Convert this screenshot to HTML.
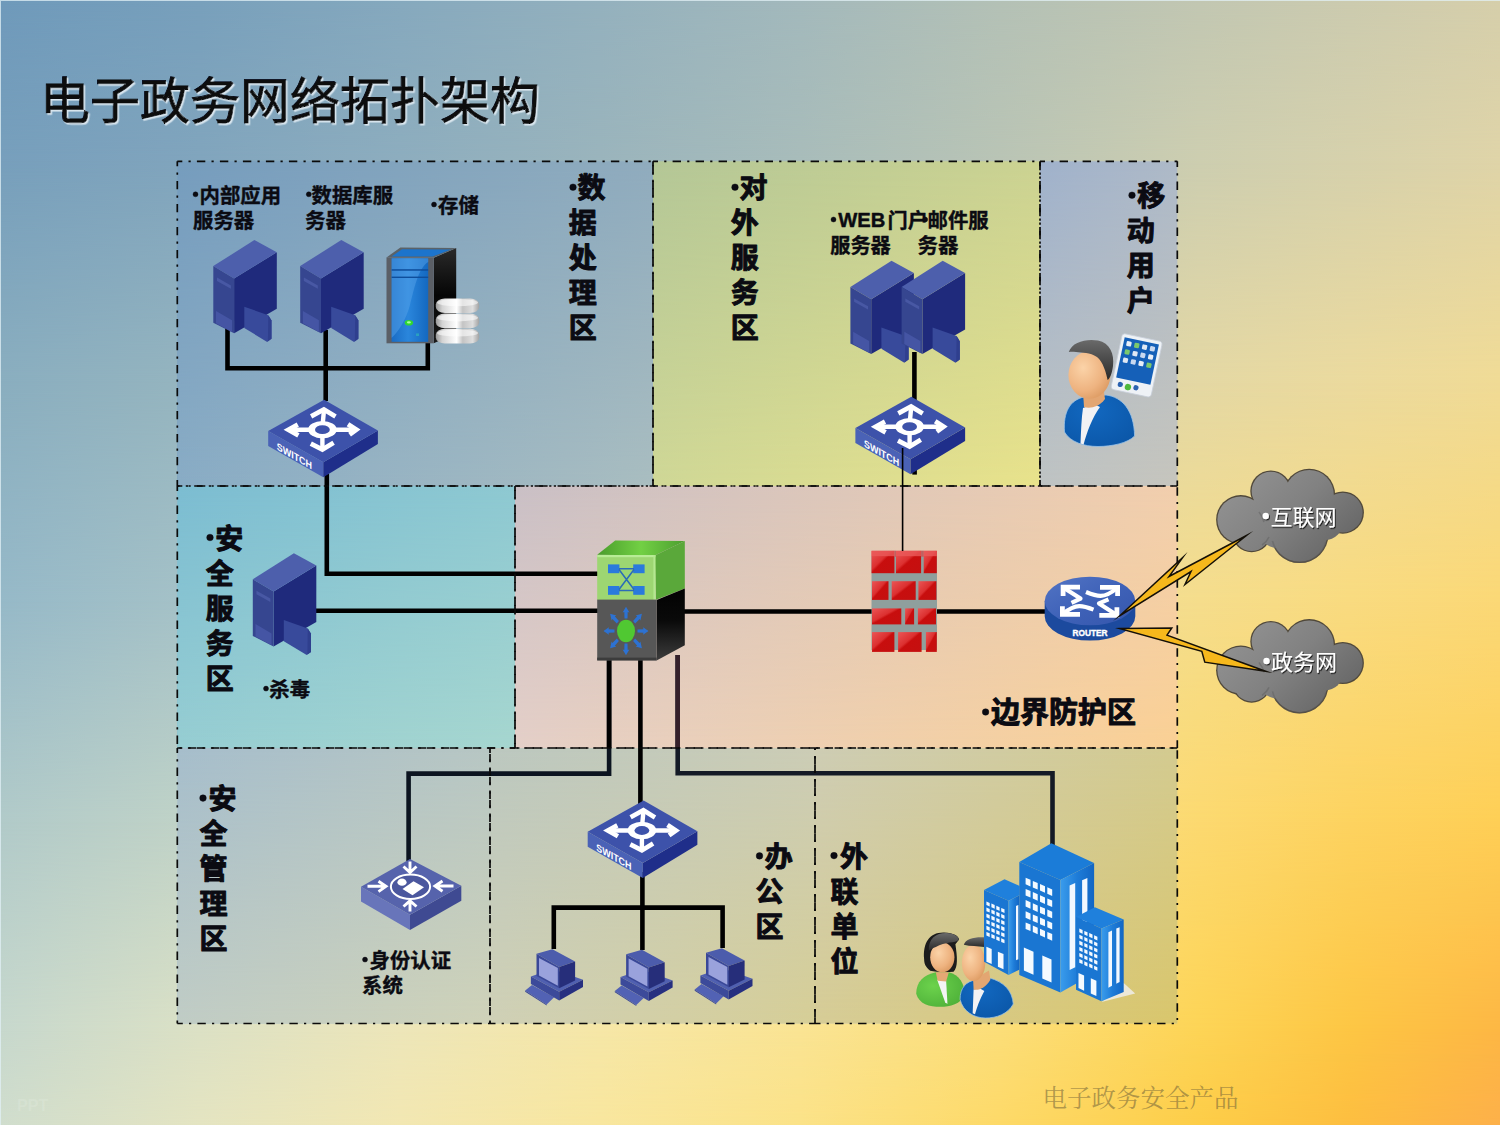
<!DOCTYPE html><html><head><meta charset="utf-8"><title>电子政务网络拓扑架构</title><style>
html,body{margin:0;padding:0;}body{width:1500px;height:1125px;overflow:hidden;position:relative;font-family:"Liberation Sans",sans-serif;background:#cfd3b8;}
.bg{position:absolute;left:0;top:0;width:1500px;height:1125px;}
svg{position:absolute;left:0;top:0;}
.t{position:absolute;color:transparent;font-weight:bold;line-height:1.2;white-space:nowrap;margin:0;}
</style></head><body>
<div class="bg" style="background:linear-gradient(to right,rgb(111,154,187) 0.00%,rgb(120,160,188) 13.33%,rgb(134,169,190) 26.67%,rgb(148,177,190) 40.00%,rgb(163,185,188) 53.33%,rgb(180,193,182) 66.67%,rgb(194,199,178) 80.00%,rgb(204,203,175) 90.00%,rgb(214,207,171) 100.00%);"></div>
<div class="bg" style="background:linear-gradient(to right,rgb(119,159,188) 0.00%,rgb(129,165,189) 13.33%,rgb(141,173,190) 26.67%,rgb(154,180,188) 40.00%,rgb(168,188,186) 53.33%,rgb(185,196,181) 66.67%,rgb(205,206,176) 80.00%,rgb(214,209,172) 90.00%,rgb(223,212,168) 100.00%);-webkit-mask-image:linear-gradient(to bottom,transparent 0.00%,#000 14.22%);mask-image:linear-gradient(to bottom,transparent 0.00%,#000 14.22%);"></div>
<div class="bg" style="background:linear-gradient(to right,rgb(138,174,191) 0.00%,rgb(150,181,191) 13.33%,rgb(164,189,190) 26.67%,rgb(180,197,186) 40.00%,rgb(197,205,180) 53.33%,rgb(214,211,172) 66.67%,rgb(228,216,164) 80.00%,rgb(235,218,158) 90.00%,rgb(240,219,150) 100.00%);-webkit-mask-image:linear-gradient(to bottom,transparent 14.22%,#000 33.78%);mask-image:linear-gradient(to bottom,transparent 14.22%,#000 33.78%);"></div>
<div class="bg" style="background:linear-gradient(to right,rgb(150,185,200) 0.00%,rgb(166,194,199) 13.33%,rgb(190,206,190) 26.67%,rgb(206,213,184) 40.00%,rgb(222,219,172) 53.33%,rgb(236,222,158) 66.67%,rgb(245,221,140) 80.00%,rgb(249,219,128) 90.00%,rgb(251,216,118) 100.00%);-webkit-mask-image:linear-gradient(to bottom,transparent 33.78%,#000 53.33%);mask-image:linear-gradient(to bottom,transparent 33.78%,#000 53.33%);"></div>
<div class="bg" style="background:linear-gradient(to right,rgb(177,202,201) 0.00%,rgb(193,211,199) 13.33%,rgb(214,220,190) 26.67%,rgb(229,225,178) 40.00%,rgb(241,227,160) 53.33%,rgb(248,224,138) 66.67%,rgb(252,217,112) 80.00%,rgb(253,211,96) 90.00%,rgb(254,207,86) 100.00%);-webkit-mask-image:linear-gradient(to bottom,transparent 53.33%,#000 72.89%);mask-image:linear-gradient(to bottom,transparent 53.33%,#000 72.89%);"></div>
<div class="bg" style="background:linear-gradient(to right,rgb(199,216,205) 0.00%,rgb(220,225,197) 13.33%,rgb(237,230,185) 26.67%,rgb(246,231,167) 40.00%,rgb(250,228,147) 53.33%,rgb(252,222,120) 66.67%,rgb(253,212,86) 80.00%,rgb(253,198,68) 90.00%,rgb(253,183,68) 100.00%);-webkit-mask-image:linear-gradient(to bottom,transparent 72.89%,#000 91.56%);mask-image:linear-gradient(to bottom,transparent 72.89%,#000 91.56%);"></div>
<div class="bg" style="background:linear-gradient(to right,rgb(208,221,205) 0.00%,rgb(228,228,193) 13.33%,rgb(242,231,178) 26.67%,rgb(248,230,158) 40.00%,rgb(251,226,136) 53.33%,rgb(253,217,104) 66.67%,rgb(253,205,72) 80.00%,rgb(253,190,64) 90.00%,rgb(253,176,74) 100.00%);-webkit-mask-image:linear-gradient(to bottom,transparent 91.56%,#000 100.00%);mask-image:linear-gradient(to bottom,transparent 91.56%,#000 100.00%);"></div>
<div class="bg" style="box-shadow:inset 1px 1px 0 rgba(225,240,245,0.75);"></div>
<svg width="1500" height="1125" viewBox="0 0 1500 1125">
<defs>
<linearGradient id="zt_data" x1="0" y1="0" x2="1" y2="0"><stop offset="0" stop-color="rgb(118,157,190)"/><stop offset="1" stop-color="rgb(144,172,190)"/></linearGradient>
<linearGradient id="zb_data" x1="0" y1="0" x2="1" y2="0"><stop offset="0" stop-color="rgb(137,172,197)"/><stop offset="1" stop-color="rgb(169,189,192)"/></linearGradient>
<linearGradient id="zt_ext" x1="0" y1="0" x2="1" y2="0"><stop offset="0" stop-color="rgb(180,199,151)"/><stop offset="1" stop-color="rgb(204,211,146)"/></linearGradient>
<linearGradient id="zb_ext" x1="0" y1="0" x2="1" y2="0"><stop offset="0" stop-color="rgb(207,215,150)"/><stop offset="1" stop-color="rgb(232,226,139)"/></linearGradient>
<linearGradient id="zt_mobile" x1="0" y1="0" x2="1" y2="0"><stop offset="0" stop-color="rgb(160,178,204)"/><stop offset="1" stop-color="rgb(174,186,200)"/></linearGradient>
<linearGradient id="zb_mobile" x1="0" y1="0" x2="1" y2="0"><stop offset="0" stop-color="rgb(190,195,195)"/><stop offset="1" stop-color="rgb(198,197,189)"/></linearGradient>
<linearGradient id="zt_secsvc" x1="0" y1="0" x2="1" y2="0"><stop offset="0" stop-color="rgb(124,189,210)"/><stop offset="1" stop-color="rgb(142,201,210)"/></linearGradient>
<linearGradient id="zb_secsvc" x1="0" y1="0" x2="1" y2="0"><stop offset="0" stop-color="rgb(150,205,210)"/><stop offset="1" stop-color="rgb(166,214,207)"/></linearGradient>
<linearGradient id="zt_border" x1="0" y1="0" x2="1" y2="0"><stop offset="0" stop-color="rgb(202,192,198)"/><stop offset="1" stop-color="rgb(242,207,174)"/></linearGradient>
<linearGradient id="zb_border" x1="0" y1="0" x2="1" y2="0"><stop offset="0" stop-color="rgb(228,207,200)"/><stop offset="1" stop-color="rgb(250,208,148)"/></linearGradient>
<linearGradient id="zt_secmgmt" x1="0" y1="0" x2="1" y2="0"><stop offset="0" stop-color="rgb(166,190,204)"/><stop offset="1" stop-color="rgb(184,199,196)"/></linearGradient>
<linearGradient id="zb_secmgmt" x1="0" y1="0" x2="1" y2="0"><stop offset="0" stop-color="rgb(192,204,197)"/><stop offset="1" stop-color="rgb(207,210,184)"/></linearGradient>
<linearGradient id="zt_office" x1="0" y1="0" x2="1" y2="0"><stop offset="0" stop-color="rgb(188,200,192)"/><stop offset="1" stop-color="rgb(204,205,182)"/></linearGradient>
<linearGradient id="zb_office" x1="0" y1="0" x2="1" y2="0"><stop offset="0" stop-color="rgb(207,208,182)"/><stop offset="1" stop-color="rgb(214,206,150)"/></linearGradient>
<linearGradient id="zt_extunit" x1="0" y1="0" x2="1" y2="0"><stop offset="0" stop-color="rgb(206,205,180)"/><stop offset="1" stop-color="rgb(212,203,144)"/></linearGradient>
<linearGradient id="zb_extunit" x1="0" y1="0" x2="1" y2="0"><stop offset="0" stop-color="rgb(214,204,150)"/><stop offset="1" stop-color="rgb(217,198,108)"/></linearGradient>
<linearGradient id="vmg" x1="0" y1="0" x2="0" y2="1"><stop offset="0" stop-color="#000"/><stop offset="1" stop-color="#fff"/></linearGradient>
<mask id="vm" maskContentUnits="objectBoundingBox"><rect width="1" height="1" fill="url(#vmg)"/></mask>
<g id="srv"><polygon points="20.8,38.4 63.5,12.3 63.5,68.8 20.8,93.3" fill="#1f2a7c" /><polygon points="0.0,26.1 41.1,0.0 63.5,12.3 20.8,38.4" fill="#4d5fac" /><polygon points="0.0,26.1 20.8,38.4 20.8,93.3 0.0,82.7" fill="#364690" /><polygon points="3.7,37.6 17.6,45.4 17.6,48.8 3.7,41.0" fill="#4858a4" /><polygon points="2.7,70.9 18.7,80.3 18.7,92.0 2.7,83.2" fill="#4555a4" /><polygon points="31.0,66.7 55.0,75.2 58.2,80.5 58.2,98.7 53.9,101.9 31.0,88.0" fill="#384a9b" /><polygon points="55.0,75.2 58.2,80.5 58.2,98.7 54.6,101.2" fill="#2f3f8e" /></g>
<g id="sw"><polygon points="-54.8,0.0 0.3,31.2 0.3,46.2 -54.8,15.0" fill="#4a62b6" /><polygon points="0.3,31.2 54.9,-0.5 54.9,13.0 0.3,46.2" fill="#1f2e8a" /><polygon points="1.1,-31.2 54.9,-0.5 0.3,31.2 -54.8,0.0" fill="#3d52aa" /><g stroke="#fff" fill="none" stroke-width="4.7" stroke-linejoin="miter" stroke-miterlimit="10"><path d="M-0.2,-8L0.9,-20M-0.6,6L-0.6,18M-13,-1.3L-34,-1.3M12,-1.3L33,-1.3" stroke-width="4.4"/><path d="M-11.9,-14.6L0.9,-21.5L12.5,-14.4"/><path d="M-12.2,12.6L-0.6,18.6L10.6,11.8"/><path d="M-25.2,-6.4L-34.6,-1.3L-24.6,4.4"/><path d="M25,-6.8L33.4,-1.3L26.6,3.6"/></g><ellipse cx="-0.6" cy="-1.3" rx="14.3" ry="8.7" fill="#fff"/><ellipse cx="-0.6" cy="-1.3" rx="7.4" ry="4.4" fill="#3d52aa"/><text x="0" y="0" font-family="'Liberation Sans',sans-serif" font-weight="bold" font-size="10.3" fill="#fff" transform="matrix(0.868,0.494,0,1,-46.2,18.6)">SWITCH</text></g>
<g id="pc"><polygon points="10.2,55.5 17.0,49.9 39.1,62.3 31.7,69.4" fill="#5262b4" /><polygon points="10.2,55.5 31.7,69.4 31.7,70.5 10.2,56.7" fill="#3a4896" /><polygon points="15.9,41.4 37.4,34.0 68.0,44.8 44.2,56.7" fill="#5060b0" /><polygon points="15.9,41.4 44.2,56.7 44.2,65.5 15.9,49.0" fill="#3c4a9a" /><polygon points="44.2,56.7 68.0,44.8 68.0,51.9 44.2,65.5" fill="#273080" /><polygon points="21.5,18.7 37.4,14.2 60.1,26.6 44.2,32.0" fill="#4c5cac" /><polygon points="21.5,18.7 44.2,32.0 44.2,53.3 21.5,41.0" fill="#3a4898" /><polygon points="44.2,32.0 60.1,26.6 60.1,45.6 44.2,53.3" fill="#262e7a" /><polygon points="24.0,22.9 42.8,33.1 42.8,50.8 24.0,40.6" fill="#9aa2dc" /></g>
<linearGradient id="stf" x1="0" y1="0" x2="1" y2="0"><stop offset="0" stop-color="#1a6cc4"/><stop offset="0.45" stop-color="#2a86dc"/><stop offset="1" stop-color="#1468c0"/></linearGradient>
<linearGradient id="stk" x1="0" y1="0" x2="0" y2="1"><stop offset="0" stop-color="#2a2a2a"/><stop offset="0.5" stop-color="#050505"/><stop offset="1" stop-color="#1a1a1a"/></linearGradient>
<linearGradient id="dsk" x1="0" y1="0" x2="1" y2="0"><stop offset="0" stop-color="#9a9a9a"/><stop offset="0.15" stop-color="#d4d4d4"/><stop offset="0.48" stop-color="#ffffff"/><stop offset="0.62" stop-color="#c4c4c4"/><stop offset="0.85" stop-color="#dedede"/><stop offset="1" stop-color="#a2a2a2"/></linearGradient>
<linearGradient id="cst" x1="0" y1="0" x2="1" y2="0"><stop offset="0" stop-color="#4a9c2c"/><stop offset="0.5" stop-color="#72d044"/><stop offset="1" stop-color="#4c9e30"/></linearGradient>
<linearGradient id="csk" x1="0" y1="0" x2="0" y2="1"><stop offset="0" stop-color="#020202"/><stop offset="0.45" stop-color="#0a0a0a"/><stop offset="1" stop-color="#3c3c3c"/></linearGradient>
<linearGradient id="brk" x1="0" y1="0" x2="1" y2="1"><stop offset="0" stop-color="#ea5656"/><stop offset="0.42" stop-color="#dc3030"/><stop offset="0.5" stop-color="#c80e0e"/><stop offset="1" stop-color="#c41010"/></linearGradient>
<linearGradient id="rtt" x1="0" y1="0" x2="1" y2="1"><stop offset="0" stop-color="#5274c4"/><stop offset="0.5" stop-color="#3f62b8"/><stop offset="1" stop-color="#3556ac"/></linearGradient>
<linearGradient id="cld" gradientUnits="userSpaceOnUse" x1="1240" y1="470" x2="1330" y2="565"><stop offset="0" stop-color="#929292"/><stop offset="0.5" stop-color="#818181"/><stop offset="1" stop-color="#666"/></linearGradient>
<g id="cloud"><g fill="#50483a"><circle cx="1240.8" cy="519.8" r="24.7"/><circle cx="1270.8" cy="491.0" r="20.5"/><circle cx="1309.2" cy="494.6" r="25.9"/><circle cx="1342.8" cy="512.6" r="21.1"/><circle cx="1299.6" cy="534.2" r="28.9"/><circle cx="1251.6" cy="533.0" r="19.3"/></g><g fill="url(#cld)"><circle cx="1240.8" cy="519.8" r="23.4"/><circle cx="1270.8" cy="491.0" r="19.2"/><circle cx="1309.2" cy="494.6" r="24.6"/><circle cx="1342.8" cy="512.6" r="19.8"/><circle cx="1299.6" cy="534.2" r="27.6"/><circle cx="1251.6" cy="533.0" r="18.0"/><circle cx="1290.0" cy="512.0" r="25.0"/><circle cx="1325.0" cy="522.0" r="18.0"/><circle cx="1266.0" cy="516.0" r="20.0"/><circle cx="1278.0" cy="526.0" r="22.0"/><circle cx="1310.0" cy="518.0" r="24.0"/></g><g fill="none" stroke="#5e5e5e" stroke-opacity="0.45" stroke-width="1.6"><path d="M1259,512A23.4,23.4 0 0 1 1264,522"/><path d="M1262,545A18,18 0 0 0 1269,537"/><path d="M1272.5,541A27.6,27.6 0 0 0 1326,542"/></g></g>
<linearGradient id="bls" x1="0" y1="0" x2="1" y2="0"><stop offset="0" stop-color="#3a9cec"/><stop offset="0.5" stop-color="#1e7cd8"/><stop offset="1" stop-color="#1266c4"/></linearGradient>
<radialGradient id="skin" cx="0.35" cy="0.35" r="0.8"><stop offset="0" stop-color="#fbd3a8"/><stop offset="0.6" stop-color="#eeb380"/><stop offset="1" stop-color="#d8945a"/></radialGradient>
<linearGradient id="hair" x1="0" y1="0" x2="0" y2="1"><stop offset="0" stop-color="#6a6a6a"/><stop offset="1" stop-color="#2a2a2a"/></linearGradient>
<radialGradient id="jkt" cx="0.4" cy="0.3" r="0.9"><stop offset="0" stop-color="#1268c0"/><stop offset="1" stop-color="#0a54a4"/></radialGradient>
<radialGradient id="grn" cx="0.35" cy="0.4" r="0.9"><stop offset="0" stop-color="#6cd24c"/><stop offset="1" stop-color="#46a834"/></radialGradient>
<filter id="tsh" x="-5%" y="-20%" width="110%" height="150%"><feDropShadow dx="1" dy="1.2" stdDeviation="0.7" flood-color="#000" flood-opacity="0.75"/></filter>
<filter id="ttl" x="-2%" y="-10%" width="104%" height="125%"><feDropShadow dx="1.4" dy="1.6" stdDeviation="0.6" flood-color="#dfeaf2" flood-opacity="0.95"/></filter>
</defs>
<g id="zones">
<rect x="177.3" y="161.3" width="475.7" height="324.7" fill="url(#zt_data)"/>
<rect x="177.3" y="161.3" width="475.7" height="324.7" fill="url(#zb_data)" mask="url(#vm)"/>
<rect x="653.0" y="161.3" width="387.0" height="324.7" fill="url(#zt_ext)"/>
<rect x="653.0" y="161.3" width="387.0" height="324.7" fill="url(#zb_ext)" mask="url(#vm)"/>
<rect x="1040.0" y="161.3" width="137.3" height="324.7" fill="url(#zt_mobile)"/>
<rect x="1040.0" y="161.3" width="137.3" height="324.7" fill="url(#zb_mobile)" mask="url(#vm)"/>
<rect x="177.3" y="486.0" width="337.7" height="262.0" fill="url(#zt_secsvc)"/>
<rect x="177.3" y="486.0" width="337.7" height="262.0" fill="url(#zb_secsvc)" mask="url(#vm)"/>
<rect x="515.0" y="486.0" width="662.3" height="262.0" fill="url(#zt_border)"/>
<rect x="515.0" y="486.0" width="662.3" height="262.0" fill="url(#zb_border)" mask="url(#vm)"/>
<rect x="177.3" y="748.0" width="312.7" height="275.5" fill="url(#zt_secmgmt)"/>
<rect x="177.3" y="748.0" width="312.7" height="275.5" fill="url(#zb_secmgmt)" mask="url(#vm)"/>
<rect x="490.0" y="748.0" width="325.0" height="275.5" fill="url(#zt_office)"/>
<rect x="490.0" y="748.0" width="325.0" height="275.5" fill="url(#zb_office)" mask="url(#vm)"/>
<rect x="815.0" y="748.0" width="362.3" height="275.5" fill="url(#zt_extunit)"/>
<rect x="815.0" y="748.0" width="362.3" height="275.5" fill="url(#zb_extunit)" mask="url(#vm)"/>
</g>
<g id="under">
</g>
<g id="lines" stroke-linejoin="miter">
<polyline points="227.5,328.0 227.5,368.3 427.8,368.3 427.8,343.0" fill="none" stroke="#000" stroke-width="4.6" />
<polyline points="325.7,330.0 325.7,401.0" fill="none" stroke="#000" stroke-width="4.6" />
<polyline points="326.8,474.0 326.8,573.8 598.0,573.8" fill="none" stroke="#000" stroke-width="4.6" />
<polyline points="314.0,610.8 598.0,610.8" fill="none" stroke="#000" stroke-width="4.6" />
<polyline points="684.0,611.5 1046.0,611.5" fill="none" stroke="#000" stroke-width="4.6" />
<polyline points="914.4,352.0 914.4,400.0" fill="none" stroke="#000" stroke-width="4.6" />
<polyline points="914.6,466.0 914.6,474.6" fill="none" stroke="#000" stroke-width="4.6" />
<polyline points="609.1,659.0 609.1,773.6 408.6,773.6 408.6,861.0" fill="none" stroke="#0c1420" stroke-width="4.6" />
<polyline points="609.1,659.0 609.1,748.0" fill="none" stroke="#000" stroke-width="4.6" />
<polyline points="640.4,659.0 640.4,810.0" fill="none" stroke="#000" stroke-width="4.6" />
<polyline points="677.7,655.0 677.7,773.3 1052.5,773.3 1052.5,846.0" fill="none" stroke="#141a26" stroke-width="4.6" />
<polyline points="677.7,655.0 677.7,748.0" fill="none" stroke="#35202a" stroke-width="4.6" />
<polyline points="642.4,872.0 642.4,950.0" fill="none" stroke="#000" stroke-width="4.6" />
<polyline points="553.8,949.0 553.8,907.6 722.6,907.6 722.6,948.0" fill="none" stroke="#000" stroke-width="4.6" />
</g>
<g id="borders" fill="none" stroke="#0a0a0a" stroke-width="1.7" stroke-dasharray="8.4 6.2 2.2 6.2">
<path d="M177.3,161.3H653.0" stroke-dashoffset="3.4"/>
<path d="M653.0,161.3V486.0" stroke-dashoffset="19.1"/>
<path d="M177.3,161.3V486.0" stroke-dashoffset="3.4"/>
<path d="M177.3,486.0H653.0" stroke-dashoffset="6.1"/>
<path d="M653.0,161.3H1040.0" stroke-dashoffset="3.4"/>
<path d="M1040.0,161.3V486.0" stroke-dashoffset="22.4"/>
<path d="M653.0,161.3V486.0" stroke-dashoffset="3.4"/>
<path d="M653.0,486.0H1040.0" stroke-dashoffset="6.1"/>
<path d="M1040.0,161.3H1177.3" stroke-dashoffset="3.4"/>
<path d="M1177.3,161.3V486.0" stroke-dashoffset="2.7"/>
<path d="M1040.0,161.3V486.0" stroke-dashoffset="3.4"/>
<path d="M1040.0,486.0H1177.3" stroke-dashoffset="6.1"/>
<path d="M177.3,486.0H515.0" stroke-dashoffset="3.4"/>
<path d="M515.0,486.0V748.0" stroke-dashoffset="19.1"/>
<path d="M177.3,486.0V748.0" stroke-dashoffset="3.4"/>
<path d="M177.3,748.0H515.0" stroke-dashoffset="12.4"/>
<path d="M515.0,486.0H1177.3" stroke-dashoffset="3.4"/>
<path d="M1177.3,486.0V748.0" stroke-dashoffset="21.7"/>
<path d="M515.0,486.0V748.0" stroke-dashoffset="3.4"/>
<path d="M515.0,748.0H1177.3" stroke-dashoffset="12.4"/>
<path d="M177.3,748.0H490.0" stroke-dashoffset="3.4"/>
<path d="M490.0,748.0V1023.5" stroke-dashoffset="17.1"/>
<path d="M177.3,748.0V1023.5" stroke-dashoffset="3.4"/>
<path d="M177.3,1023.5H490.0" stroke-dashoffset="2.9"/>
<path d="M490.0,748.0H815.0" stroke-dashoffset="3.4"/>
<path d="M815.0,748.0V1023.5" stroke-dashoffset="6.4"/>
<path d="M490.0,748.0V1023.5" stroke-dashoffset="3.4"/>
<path d="M490.0,1023.5H815.0" stroke-dashoffset="2.9"/>
<path d="M815.0,748.0H1177.3" stroke-dashoffset="3.4"/>
<path d="M1177.3,748.0V1023.5" stroke-dashoffset="20.7"/>
<path d="M815.0,748.0V1023.5" stroke-dashoffset="14.9"/>
<path d="M815.0,1023.5H1177.3" stroke-dashoffset="2.9"/>
</g>
<g id="icons">
<use href="#srv" x="213.3" y="240.0"/>
<use href="#srv" x="300.2" y="240.0"/>
<polygon points="433.8,257.8 456.2,248.0 456.2,333.0 433.8,343.3" fill="url(#stk)" />
<polygon points="386.5,257.4 400.4,247.5 456.2,248.0 433.8,257.6" fill="#5a6268" />
<polygon points="391.5,256.6 402.0,249.2 451.0,249.5 432.5,256.6" fill="#1c74cc" />
<rect x="386.5" y="257.4" width="47.3" height="85.9" fill="#5b5f66"/>
<rect x="391.6" y="258.2" width="36.6" height="83.6" fill="url(#stf)"/>
<path d="M391.6,258.2L428.2,258.2L428.2,262C418,268 414,290 410,305C406,320 398,332 391.6,338Z" fill="#5aa6ea" fill-opacity="0.45"/>
<rect x="391.6" y="269.2" width="36.6" height="1.5" fill="#0e4e9c"/>
<rect x="391.6" y="276.6" width="36.6" height="1.4" fill="#0e4e9c"/>
<ellipse cx="408.9" cy="322.8" rx="4.2" ry="2.8" fill="#2fd82f"/>
<ellipse cx="408.9" cy="322.4" rx="2" ry="1.1" fill="#a8ffa0"/>
<rect x="416" y="333.4" width="3" height="2.6" fill="#2aa0c0"/>
<rect x="435.8" y="298.4" width="43.4" height="14.6" rx="9" ry="6" fill="url(#dsk)"/>
<ellipse cx="457.5" cy="302.6" rx="20.5" ry="3.6" fill="#fff" fill-opacity="0.55"/>
<rect x="435.8" y="313.6" width="43.4" height="14.6" rx="9" ry="6" fill="url(#dsk)"/>
<ellipse cx="457.5" cy="317.8" rx="20.5" ry="3.6" fill="#fff" fill-opacity="0.55"/>
<rect x="435.8" y="328.8" width="43.4" height="14.6" rx="9" ry="6" fill="url(#dsk)"/>
<ellipse cx="457.5" cy="333.0" rx="20.5" ry="3.6" fill="#fff" fill-opacity="0.55"/>
<use href="#sw" x="323.0" y="431.0"/>
<use href="#srv" x="850.4" y="260.8"/>
<use href="#srv" x="901.6" y="260.8"/>
<use href="#sw" x="910.2" y="428.0"/>
<use href="#srv" x="252.8" y="553.2"/>
<polygon points="597.2,554.8 615.2,540.4 684.8,541.0 654.8,555.4" fill="url(#cst)" />
<polygon points="654.8,555.4 684.8,541.0 684.8,588.6 656.0,599.8" fill="#5aa83a" />
<polygon points="656.6,600.0 684.8,588.6 684.8,645.2 656.6,660.4" fill="url(#csk)" />
<rect x="597.2" y="555" width="58.2" height="45" fill="#9dd672"/>
<rect x="597.2" y="555" width="58.2" height="2.2" fill="#b8ec96"/>
<rect x="653.4" y="555" width="2" height="45" fill="#b4e890"/>
<rect x="597.2" y="599.6" width="59.4" height="60.8" fill="#575757"/>
<rect x="597.2" y="657.6" width="59.4" height="2.8" fill="#3c3c3c"/>
<rect x="608.0" y="564.4" width="11.4" height="8.8" fill="#2a7adc"/>
<rect x="633.2" y="564.4" width="11.4" height="8.8" fill="#2a7adc"/>
<rect x="608.0" y="586.0" width="11.4" height="8.8" fill="#2a7adc"/>
<rect x="633.2" y="586.0" width="11.4" height="8.8" fill="#2a7adc"/>
<path d="M619,568.8L634,568.8M619,590.4L634,590.4M619,569.5L634,589.5M634,569.5L619,589.5" fill="none" stroke="#2c6cb8" stroke-width="1.5"/>
<polygon points="637.5,629.4 643.5,629.2 643.0,627.3 648.5,631.0 643.0,634.7 643.5,632.8 637.5,632.6" fill="#2d72d2"/>
<polygon points="635.2,638.6 639.6,643.1 640.4,641.4 641.9,648.2 635.6,646.6 637.2,645.7 633.1,640.9" fill="#2d72d2"/>
<polygon points="627.5,643.4 627.7,649.9 629.4,649.4 626.0,655.3 622.6,649.4 624.3,649.9 624.5,643.4" fill="#2d72d2"/>
<polygon points="618.9,640.9 614.8,645.7 616.4,646.6 610.1,648.2 611.6,641.4 612.4,643.1 616.8,638.6" fill="#2d72d2"/>
<polygon points="614.5,632.6 608.5,632.8 609.0,634.7 603.5,631.0 609.0,627.3 608.5,629.2 614.5,629.4" fill="#2d72d2"/>
<polygon points="616.8,623.4 612.4,618.9 611.6,620.6 610.1,613.8 616.4,615.4 614.8,616.3 618.9,621.1" fill="#2d72d2"/>
<polygon points="624.5,618.6 624.3,612.1 622.6,612.6 626.0,606.7 629.4,612.6 627.7,612.1 627.5,618.6" fill="#2d72d2"/>
<polygon points="633.1,621.1 637.2,616.3 635.6,615.4 641.9,613.8 640.4,620.6 639.6,618.9 635.2,623.4" fill="#2d72d2"/>
<ellipse cx="626.0" cy="631.0" rx="9" ry="11.2" fill="#50c832"/>
<rect x="871.5" y="556" width="65.5" height="94" fill="#8f9f9d"/>
<rect x="871.5" y="550.8" width="22.9" height="22.4" fill="url(#brk)"/>
<rect x="896.0" y="550.8" width="25.1" height="22.4" fill="url(#brk)"/>
<rect x="923.7" y="550.8" width="13.1" height="22.4" fill="url(#brk)"/>
<rect x="872.0" y="581.2" width="16.5" height="18.7" fill="url(#brk)"/>
<rect x="891.7" y="581.2" width="24.0" height="18.7" fill="url(#brk)"/>
<rect x="918.4" y="581.2" width="18.0" height="18.7" fill="url(#brk)"/>
<rect x="872.0" y="608.4" width="29.3" height="16.0" fill="url(#brk)"/>
<rect x="905.1" y="608.4" width="9.0" height="16.0" fill="url(#brk)"/>
<rect x="917.9" y="608.4" width="18.1" height="16.0" fill="url(#brk)"/>
<rect x="872.0" y="632.1" width="22.4" height="19.8" fill="url(#brk)"/>
<rect x="898.1" y="632.1" width="23.5" height="19.8" fill="url(#brk)"/>
<rect x="925.9" y="632.1" width="10.9" height="19.8" fill="url(#brk)"/>
<rect x="871.5" y="550.8" width="65.3" height="5.4" fill="#ea5a5a" fill-opacity="0.8"/>
<path d="M894.4,550.8h1.6v6h-1.6zM921.1,550.8h2.6v6h-2.6z" fill="#c06060" />
<path d="M1044.7,601 L1044.7,616.3 A45.3,24.3 0 0 0 1135.3,616.3 L1135.3,601 Z" fill="#1c4a9e" />
<ellipse cx="1090" cy="601" rx="45.3" ry="24.3" fill="url(#rtt)"/>
<text x="0" y="0" font-family="'Liberation Sans',sans-serif" font-weight="bold" font-size="9.2" fill="#fff" stroke="#fff" stroke-width="0.4" transform="translate(1072.4,635.8) scale(0.905,1)">ROUTER</text>
<g fill="none" stroke="#fff" stroke-width="4.8" stroke-linejoin="miter">
<path d="M1080,587.1L1063.1,587.1L1063.1,596"/>
<path d="M1100,587.4L1117.6,587.4L1117.6,596"/>
<path d="M1080,614.3L1062.4,614.3L1062.4,606.3"/>
<path d="M1099.3,615.3L1116.9,615.3L1116.9,607.3"/>
</g>
<g fill="none" stroke="#fff" stroke-width="4.2" stroke-linecap="butt" stroke-linejoin="round">
<path d="M1064,588L1080.5,598.6L1071.5,602.8"/>
<path d="M1116.5,588.5C1104,599 1097,596.5 1086,592"/>
<path d="M1063.5,613.5C1076,603 1083,605.5 1093.5,609.6"/>
<path d="M1116,614.5L1099,603.4L1108.5,599.4"/>
</g>
<use href="#cloud" x="0" y="0"/>
<use href="#cloud" x="0" y="150.4"/>
<polygon points="1119.5,616.0 1182.6,557.6 1169.0,576.5 1246.5,535.5 1185.0,584.5 1191.0,571.5" fill="#f6b81c" stroke="#141008" stroke-width="1.5" stroke-linejoin="miter" stroke-miterlimit="12"/>
<polygon points="1120.2,628.6 1171.8,628.0 1167.0,635.2 1265.4,671.2 1204.8,662.2 1201.8,651.4" fill="#f6b81c" stroke="#141008" stroke-width="1.5" stroke-linejoin="miter" stroke-miterlimit="12"/>
<polygon points="361.0,886.7 410.0,914.7 410.0,930.1 361.0,901.6" fill="#6875ba" />
<polygon points="410.0,914.7 461.3,885.7 461.3,900.7 410.0,930.1" fill="#3f4a92" />
<polygon points="410.0,859.1 461.3,885.7 410.0,914.7 361.0,886.7" fill="#5663ac" />
<ellipse cx="410.5" cy="886.7" rx="19.6" ry="12.2" fill="#4b579e" stroke="#fff" stroke-width="2"/>
<ellipse cx="402" cy="882.2" rx="4.6" ry="3.6" fill="#fff"/>
<polygon points="402.5,889.0 413.5,881.2 424.0,887.2 412.5,895.3" fill="#fff" />
<g fill="none" stroke="#fff" stroke-width="2.9">
<path d="M410,861.5V871.5M403.5,866.5L410,872.5L416.5,866.5"/>
<path d="M410,911.5V901.5M403.5,906.5L410,900.8L416.5,906.5"/>
<path d="M367.5,886.3H385M378.5,881.2L386,886.3L378.5,891.6"/>
<path d="M453.5,886H436M442.5,881L435,886L442.5,891.2"/>
</g>
<use href="#sw" x="642.5" y="831.8"/>
<use href="#pc" x="515.0" y="935.0"/>
<use href="#pc" x="604.6" y="935.6"/>
<use href="#pc" x="684.5" y="934.0"/>
<g transform="translate(905,920) scale(0.093335)">
<path d="M205,420C190,250 260,130 420,135C520,140 575,170 580,210L540,260C560,400 570,500 520,555C440,560 330,560 270,545C215,500 205,460 205,420Z" fill="#1c1c1c" />
<path d="M120,790C120,660 200,590 330,560L470,560C580,590 640,680 640,800C600,900 480,930 380,930C260,930 150,900 120,790Z" fill="url(#grn)" />
<path d="M345,640L440,640L455,900L430,880Z" fill="#f4f4f4" />
<path d="M330,560L470,560L440,660L350,650Z" fill="#e4a874" />
<ellipse cx="400" cy="400" rx="130" ry="160" fill="url(#skin)"/>
<path d="M255,330C250,200 330,140 440,140C530,145 580,180 575,215C540,250 430,230 330,290C300,300 275,315 255,330Z" fill="url(#hair)" />
<path d="M590,850C590,730 650,660 760,640L900,620C1060,660 1150,760 1160,900C1100,1010 980,1050 860,1050C740,1050 620,980 590,850Z" fill="url(#jkt)" stroke="#9cc4e8" stroke-width="8"/>
<path d="M735,745L800,730L850,760C800,850 770,940 750,1010L725,1000Z" fill="#f2f2f4" />
<path d="M730,640L900,540L915,640C870,720 790,760 735,745Z" fill="#e3a672" />
<ellipse cx="735" cy="460" rx="125" ry="195" fill="url(#skin)"/>
<path d="M630,265C650,200 740,180 850,185L850,290C780,275 700,285 630,265Z" fill="url(#hair)" />
</g>
<polygon points="1123.7,982.9 1135.2,993.6 1101.5,1002.0" fill="#ece8d8" />
<polygon points="984.0,890.0 1004.5,879.3 1019.6,885.9 1019.6,895.3 1008.6,900.7" fill="#1f80dc" />
<polygon points="984.0,890.0 1008.6,900.7 1008.6,975.0 984.0,961.8" fill="#1a76d2" />
<polygon points="1008.6,900.7 1019.3,895.4 1019.3,969.7 1008.6,975.0" fill="url(#bls)" />
<polygon points="1016.0,905.9 1018.3,905.0 1018.3,959.2 1016.0,960.2" fill="#f2f8ff" />
<polygon points="1019.3,862.1 1051.4,843.2 1094.1,862.9 1060.4,880.1" fill="#1b7cd8" />
<polygon points="1019.3,862.1 1060.4,880.1 1060.4,992.4 1019.3,975.0" fill="#1a76d2" />
<polygon points="1060.4,880.1 1094.1,862.9 1094.1,973.4 1060.4,992.4" fill="url(#bls)" />
<polygon points="1069.6,885.6 1075.2,882.9 1075.2,967.3 1069.6,970.1" fill="#f2f8ff" />
<polygon points="1082.1,880.3 1087.4,878.0 1087.4,922.1 1082.1,924.5" fill="#f2f8ff" />
<polygon points="1076.0,917.1 1094.9,907.3 1123.7,919.6 1101.5,928.6" fill="#1f80dc" />
<polygon points="1076.0,917.1 1101.5,928.6 1101.5,1001.3 1076.0,989.8" fill="#1a76d2" />
<polygon points="1101.5,928.6 1123.7,919.6 1123.7,991.9 1101.5,1001.3" fill="url(#bls)" />
<polygon points="1108.4,932.3 1112.0,930.6 1112.0,985.8 1108.4,987.8" fill="#f2f8ff" />
<polygon points="1116.3,928.6 1119.6,927.3 1119.6,982.1 1116.3,983.7" fill="#f2f8ff" />
<polygon points="1025.6,877.7 1030.5,879.8 1030.5,886.4 1025.6,884.2" fill="#f4faff" />
<polygon points="1032.8,880.9 1037.7,883.0 1037.7,889.6 1032.8,887.4" fill="#f4faff" />
<polygon points="1040.0,884.0 1045.0,886.2 1045.0,892.8 1040.0,890.6" fill="#f4faff" />
<polygon points="1047.3,887.2 1052.2,889.4 1052.2,896.0 1047.3,893.8" fill="#f4faff" />
<polygon points="1025.6,888.9 1030.5,891.0 1030.5,897.6 1025.6,895.4" fill="#f4faff" />
<polygon points="1032.8,892.0 1037.7,894.2 1037.7,900.8 1032.8,898.6" fill="#f4faff" />
<polygon points="1040.0,895.2 1045.0,897.4 1045.0,904.0 1040.0,901.8" fill="#f4faff" />
<polygon points="1047.3,898.4 1052.2,900.6 1052.2,907.1 1047.3,905.0" fill="#f4faff" />
<polygon points="1025.6,900.0 1030.5,902.2 1030.5,908.8 1025.6,906.6" fill="#f4faff" />
<polygon points="1032.8,903.2 1037.7,905.4 1037.7,912.0 1032.8,909.8" fill="#f4faff" />
<polygon points="1040.0,906.4 1045.0,908.6 1045.0,915.1 1040.0,913.0" fill="#f4faff" />
<polygon points="1047.3,909.6 1052.2,911.7 1052.2,918.3 1047.3,916.2" fill="#f4faff" />
<polygon points="1025.6,911.2 1030.5,913.4 1030.5,920.0 1025.6,917.8" fill="#f4faff" />
<polygon points="1032.8,914.4 1037.7,916.6 1037.7,923.1 1032.8,921.0" fill="#f4faff" />
<polygon points="1040.0,917.6 1045.0,919.7 1045.0,926.3 1040.0,924.2" fill="#f4faff" />
<polygon points="1047.3,920.8 1052.2,922.9 1052.2,929.5 1047.3,927.3" fill="#f4faff" />
<polygon points="1025.6,922.4 1030.5,924.6 1030.5,931.1 1025.6,929.0" fill="#f4faff" />
<polygon points="1032.8,925.6 1037.7,927.7 1037.7,934.3 1032.8,932.1" fill="#f4faff" />
<polygon points="1040.0,928.8 1045.0,930.9 1045.0,937.5 1040.0,935.3" fill="#f4faff" />
<polygon points="1047.3,931.9 1052.2,934.1 1052.2,940.7 1047.3,938.5" fill="#f4faff" />
<polygon points="986.4,901.5 989.7,902.9 989.7,906.5 986.4,905.1" fill="#f4faff" />
<polygon points="991.4,903.6 994.7,905.0 994.7,908.7 991.4,907.2" fill="#f4faff" />
<polygon points="996.3,905.8 999.6,907.2 999.6,910.8 996.3,909.4" fill="#f4faff" />
<polygon points="1001.2,907.9 1004.5,909.3 1004.5,912.9 1001.2,911.5" fill="#f4faff" />
<polygon points="986.4,907.6 989.7,909.0 989.7,912.6 986.4,911.2" fill="#f4faff" />
<polygon points="991.4,909.7 994.7,911.1 994.7,914.7 991.4,913.3" fill="#f4faff" />
<polygon points="996.3,911.8 999.6,913.2 999.6,916.9 996.3,915.5" fill="#f4faff" />
<polygon points="1001.2,914.0 1004.5,915.4 1004.5,919.0 1001.2,917.6" fill="#f4faff" />
<polygon points="986.4,913.7 989.7,915.1 989.7,918.7 986.4,917.3" fill="#f4faff" />
<polygon points="991.4,915.8 994.7,917.2 994.7,920.8 991.4,919.4" fill="#f4faff" />
<polygon points="996.3,917.9 999.6,919.3 999.6,922.9 996.3,921.5" fill="#f4faff" />
<polygon points="1001.2,920.0 1004.5,921.5 1004.5,925.1 1001.2,923.7" fill="#f4faff" />
<polygon points="986.4,919.8 989.7,921.2 989.7,924.8 986.4,923.4" fill="#f4faff" />
<polygon points="991.4,921.9 994.7,923.3 994.7,926.9 991.4,925.5" fill="#f4faff" />
<polygon points="996.3,924.0 999.6,925.4 999.6,929.0 996.3,927.6" fill="#f4faff" />
<polygon points="1001.2,926.1 1004.5,927.5 1004.5,931.2 1001.2,929.7" fill="#f4faff" />
<polygon points="986.4,925.8 989.7,927.3 989.7,930.9 986.4,929.5" fill="#f4faff" />
<polygon points="991.4,928.0 994.7,929.4 994.7,933.0 991.4,931.6" fill="#f4faff" />
<polygon points="996.3,930.1 999.6,931.5 999.6,935.1 996.3,933.7" fill="#f4faff" />
<polygon points="1001.2,932.2 1004.5,933.6 1004.5,937.2 1001.2,935.8" fill="#f4faff" />
<polygon points="986.4,931.9 989.7,933.3 989.7,937.0 986.4,935.5" fill="#f4faff" />
<polygon points="991.4,934.0 994.7,935.5 994.7,939.1 991.4,937.7" fill="#f4faff" />
<polygon points="996.3,936.2 999.6,937.6 999.6,941.2 996.3,939.8" fill="#f4faff" />
<polygon points="1001.2,938.3 1004.5,939.7 1004.5,943.3 1001.2,941.9" fill="#f4faff" />
<polygon points="1079.3,928.6 1082.6,930.1 1082.6,933.7 1079.3,932.3" fill="#f4faff" />
<polygon points="1084.3,930.9 1087.5,932.3 1087.5,936.0 1084.3,934.5" fill="#f4faff" />
<polygon points="1089.2,933.1 1092.5,934.6 1092.5,938.2 1089.2,936.7" fill="#f4faff" />
<polygon points="1094.1,935.3 1097.4,936.8 1097.4,940.4 1094.1,938.9" fill="#f4faff" />
<polygon points="1079.3,934.7 1082.6,936.2 1082.6,939.8 1079.3,938.3" fill="#f4faff" />
<polygon points="1084.3,936.9 1087.5,938.4 1087.5,942.0 1084.3,940.6" fill="#f4faff" />
<polygon points="1089.2,939.2 1092.5,940.6 1092.5,944.3 1089.2,942.8" fill="#f4faff" />
<polygon points="1094.1,941.4 1097.4,942.9 1097.4,946.5 1094.1,945.0" fill="#f4faff" />
<polygon points="1079.3,940.8 1082.6,942.3 1082.6,945.9 1079.3,944.4" fill="#f4faff" />
<polygon points="1084.3,943.0 1087.5,944.5 1087.5,948.1 1084.3,946.6" fill="#f4faff" />
<polygon points="1089.2,945.2 1092.5,946.7 1092.5,950.3 1089.2,948.9" fill="#f4faff" />
<polygon points="1094.1,947.5 1097.4,948.9 1097.4,952.6 1094.1,951.1" fill="#f4faff" />
<polygon points="1079.3,946.9 1082.6,948.4 1082.6,952.0 1079.3,950.5" fill="#f4faff" />
<polygon points="1084.3,949.1 1087.5,950.6 1087.5,954.2 1084.3,952.7" fill="#f4faff" />
<polygon points="1089.2,951.3 1092.5,952.8 1092.5,956.4 1089.2,954.9" fill="#f4faff" />
<polygon points="1094.1,953.5 1097.4,955.0 1097.4,958.6 1094.1,957.2" fill="#f4faff" />
<polygon points="1079.3,953.0 1082.6,954.4 1082.6,958.1 1079.3,956.6" fill="#f4faff" />
<polygon points="1084.3,955.2 1087.5,956.7 1087.5,960.3 1084.3,958.8" fill="#f4faff" />
<polygon points="1089.2,957.4 1092.5,958.9 1092.5,962.5 1089.2,961.0" fill="#f4faff" />
<polygon points="1094.1,959.6 1097.4,961.1 1097.4,964.7 1094.1,963.2" fill="#f4faff" />
<polygon points="1079.3,959.0 1082.6,960.5 1082.6,964.1 1079.3,962.7" fill="#f4faff" />
<polygon points="1084.3,961.3 1087.5,962.7 1087.5,966.4 1084.3,964.9" fill="#f4faff" />
<polygon points="1089.2,963.5 1092.5,965.0 1092.5,968.6 1089.2,967.1" fill="#f4faff" />
<polygon points="1094.1,965.7 1097.4,967.2 1097.4,970.8 1094.1,969.3" fill="#f4faff" />
<polygon points="1023.9,947.5 1033.5,951.7 1033.5,974.8 1023.9,970.6" fill="#f4faff" />
<polygon points="1042.3,955.4 1051.5,959.5 1051.5,982.5 1042.3,978.4" fill="#f4faff" />
<polygon points="986.4,946.7 991.7,949.0 991.7,964.1 986.4,961.8" fill="#f4faff" />
<polygon points="997.9,951.7 1003.5,954.1 1003.5,969.2 997.9,966.8" fill="#f4faff" />
<polygon points="1078.5,973.0 1084.1,975.5 1084.1,990.7 1078.5,988.1" fill="#f4faff" />
<polygon points="1090.8,978.3 1096.4,980.8 1096.4,995.9 1090.8,993.4" fill="#f4faff" />
<path d="M1064.5,432 C1063,412 1070,400 1084,397 L1106,395 C1122,397 1134,410 1134.6,436 C1128,443 1112,446.5 1098,446.5 C1084,446.5 1070,442 1064.5,432Z" fill="url(#jkt)" stroke="#9cc4e8" stroke-width="0.8"/>
<path d="M1083,408 L1094,404 L1100,407 C1092,418 1087,432 1083.6,444.5 L1080.5,443.5 C1081,430 1081.5,418 1083,408Z" fill="#f2f2f4" />
<path d="M1083,392 L1103,386 L1105,399 C1099,407 1090,409 1084,407Z" fill="#e3a672" />
<ellipse cx="1089.4" cy="375" rx="21" ry="23.8" fill="url(#skin)"/>
<path d="M1068.8,352 C1072,342 1086,338.5 1098,340.5 C1110,343 1114.5,354 1113,366 C1112,374 1109.5,379 1107.6,380 C1106,372 1103,362 1097,357 C1090,352 1082,353 1076,352 C1073,351.5 1070.5,351.5 1068.8,352Z" fill="url(#hair)" />
<g transform="rotate(12 1137 366)">
<rect x="1116" y="337" width="41" height="57" rx="3.5" fill="#eef2f6" stroke="#c8d0da" stroke-width="0.8"/>
<rect x="1119" y="340.5" width="35" height="41" fill="#1560b8"/>
<rect x="1122.0" y="343.5" width="5" height="5" rx="1" fill="#e8eef8"/>
<rect x="1130.0" y="343.5" width="5" height="5" rx="1" fill="#7cc86c"/>
<rect x="1138.0" y="343.5" width="5" height="5" rx="1" fill="#dfe8f4"/>
<rect x="1146.0" y="343.5" width="5" height="5" rx="1" fill="#c8d8f0"/>
<rect x="1122.0" y="351.9" width="5" height="5" rx="1" fill="#7cc86c"/>
<rect x="1130.0" y="351.9" width="5" height="5" rx="1" fill="#dfe8f4"/>
<rect x="1138.0" y="351.9" width="5" height="5" rx="1" fill="#c8d8f0"/>
<rect x="1146.0" y="351.9" width="5" height="5" rx="1" fill="#e8eef8"/>
<rect x="1122.0" y="360.3" width="5" height="5" rx="1" fill="#dfe8f4"/>
<rect x="1130.0" y="360.3" width="5" height="5" rx="1" fill="#c8d8f0"/>
<rect x="1138.0" y="360.3" width="5" height="5" rx="1" fill="#e8eef8"/>
<rect x="1146.0" y="360.3" width="5" height="5" rx="1" fill="#7cc86c"/>
<circle cx="1124.5" cy="387.5" r="2.6" fill="#2a62b0"/><circle cx="1132.5" cy="388.5" r="3.2" fill="#4eb83c"/><circle cx="1140.5" cy="387.5" r="2.6" fill="#2a62b0"/>
</g>
</g>
<path d="M902.6,448V551" stroke="#000" stroke-width="1.6" fill="none"/>
<g id="title" filter="url(#ttl)"><text x="40" y="119" font-family="'Liberation Sans','Noto Sans CJK SC',sans-serif" font-size="50" fill="#08080e" stroke="#08080e" stroke-width="0.85">电子政务网络拓扑架构</text></g>
<g id="labels" stroke="#0b0b12" stroke-width="0.4" stroke-linejoin="round" font-family="'Liberation Sans','Noto Sans CJK SC',sans-serif" font-weight="bold" fill="#0b0b12">
<text font-size="20.4"><tspan x="199.5" y="202.8">内部应用</tspan><tspan x="193" y="227.7">服务器</tspan></text>
<circle cx="195.5" cy="194.3" r="2.5" fill="#0b0b12" />
<text font-size="20.4"><tspan x="311.5" y="202.8">数据库服</tspan><tspan x="305" y="227.7">务器</tspan></text>
<circle cx="308.8" cy="194.3" r="2.5" fill="#0b0b12" />
<text font-size="20.4" x="438" y="213">存储</text>
<circle cx="434.0" cy="204.5" r="2.5" fill="#0b0b12" />
<circle cx="833.5" cy="219.5" r="2.5" fill="#0b0b12" />
<text font-size="20.2"><tspan x="838.3" y="226.9">WEB</tspan><tspan x="887.6" y="227.9">门户</tspan><tspan x="830.2" y="253.1">服务器</tspan></text>
<circle cx="925.2" cy="219.5" r="2.5" fill="#0b0b12" />
<text font-size="20.4"><tspan x="927.5" y="227.8">邮件服</tspan><tspan x="917.5" y="253.1">务器</tspan></text>
<text font-size="20.4" x="269.3" y="697.2">杀毒</text>
<circle cx="266.0" cy="688.6" r="2.5" fill="#0b0b12" />
<text font-size="20.4"><tspan x="369.5" y="968.2">身份认证</tspan><tspan x="362" y="993">系统</tspan></text>
<circle cx="365.0" cy="959.6" r="2.5" fill="#0b0b12" />
<text font-size="28" stroke-width="1"><tspan x="577.5" y="198.2">数</tspan><tspan x="568.8" y="233.2">据</tspan><tspan x="568.8" y="268.2">处</tspan><tspan x="568.8" y="303.2">理</tspan><tspan x="568.8" y="338.2">区</tspan></text>
<circle cx="573.0" cy="187.2" r="3.3" fill="#0b0b12" />
<text font-size="28" stroke-width="1"><tspan x="739.5" y="198.2">对</tspan><tspan x="730.8" y="233.2">外</tspan><tspan x="730.8" y="268.2">服</tspan><tspan x="730.8" y="303.2">务</tspan><tspan x="730.8" y="338.2">区</tspan></text>
<circle cx="735.0" cy="187.2" r="3.3" fill="#0b0b12" />
<text font-size="28" stroke-width="1"><tspan x="1137.3" y="206.2">移</tspan><tspan x="1126.8" y="241.2">动</tspan><tspan x="1126.8" y="276.2">用</tspan><tspan x="1126.8" y="311.2">户</tspan></text>
<circle cx="1132.0" cy="195.2" r="3.3" fill="#0b0b12" />
<text font-size="28" stroke-width="1"><tspan x="215.3" y="548.5">安</tspan><tspan x="205.8" y="583.5">全</tspan><tspan x="205.8" y="618.5">服</tspan><tspan x="205.8" y="653.5">务</tspan><tspan x="205.8" y="688.5">区</tspan></text>
<circle cx="210.0" cy="537.5" r="3.3" fill="#0b0b12" />
<text font-size="28" stroke-width="1"><tspan x="208.4" y="809.1">安</tspan><tspan x="199.4" y="844.1">全</tspan><tspan x="199.4" y="879.1">管</tspan><tspan x="199.4" y="914.1">理</tspan><tspan x="199.4" y="949.1">区</tspan></text>
<circle cx="203.0" cy="798.1" r="3.3" fill="#0b0b12" />
<text font-size="28" stroke-width="1"><tspan x="764.8" y="867">办</tspan><tspan x="755.6" y="902">公</tspan><tspan x="755.6" y="937">区</tspan></text>
<circle cx="759.5" cy="855.9" r="3.3" fill="#0b0b12" />
<text font-size="28" stroke-width="1"><tspan x="840" y="866.5">外</tspan><tspan x="830.5" y="901.5">联</tspan><tspan x="830.5" y="936.5">单</tspan><tspan x="830.5" y="971.5">位</tspan></text>
<circle cx="834.0" cy="855.6" r="3.3" fill="#0b0b12" />
<text font-size="29" stroke-width="1" x="991" y="723">边界防护区</text>
<circle cx="985.6" cy="712.0" r="3.3" fill="#0b0b12" />
</g>
<g id="cloudlabels" font-family="'Liberation Sans','Noto Sans CJK SC',sans-serif">
<g filter="url(#tsh)"><text x="1270.5" y="524.5" font-size="22" fill="#fff">互联网</text><circle cx="1265.7" cy="516.0" r="3.2" fill="#fff"/></g>
<g filter="url(#tsh)"><text x="1271" y="669.7" font-size="22" fill="#fff">政务网</text><circle cx="1266.5" cy="661.0" r="3.2" fill="#fff"/></g>
</g>
<text x="1042.5" y="1106.5" font-family="'Liberation Serif','Noto Serif CJK SC',serif" font-size="24.5" fill="#6e6038" fill-opacity="0.55">电子政务安全产品</text>
<text x="17" y="1111" font-family="'Liberation Sans',sans-serif" font-weight="bold" font-size="16.2" fill="#fff" fill-opacity="0.13">PPT</text>
</svg>
<div class="t" style="left:40px;top:66px;font-size:50px;">电子政务网络拓扑架构</div>
<div class="t" style="left:193px;top:180px;font-size:20px;width:100px;">•内部应用<br>服务器</div>
<div class="t" style="left:305px;top:180px;font-size:20px;width:100px;">•数据库服<br>务器</div>
<div class="t" style="left:432px;top:191px;font-size:20px;">•存储</div>
<div class="t" style="left:830px;top:206px;font-size:20px;width:100px;">•WEB门户<br>服务器</div>
<div class="t" style="left:918px;top:206px;font-size:20px;width:80px;">•邮件服<br>务器</div>
<div class="t" style="left:263px;top:675px;font-size:20px;">•杀毒</div>
<div class="t" style="left:362px;top:946px;font-size:20px;width:100px;">•身份认证<br>系统</div>
<div class="t" style="left:569px;top:167px;font-size:28px;width:60px;">•数<br>据<br>处<br>理<br>区</div>
<div class="t" style="left:731px;top:167px;font-size:28px;width:60px;">•对<br>外<br>服<br>务<br>区</div>
<div class="t" style="left:1127px;top:175px;font-size:28px;width:60px;">•移<br>动<br>用<br>户</div>
<div class="t" style="left:206px;top:517px;font-size:28px;width:60px;">•安<br>全<br>服<br>务<br>区</div>
<div class="t" style="left:199px;top:777px;font-size:28px;width:60px;">•安<br>全<br>管<br>理<br>区</div>
<div class="t" style="left:755px;top:835px;font-size:28px;width:60px;">•办<br>公<br>区</div>
<div class="t" style="left:830px;top:835px;font-size:28px;width:60px;">•外<br>联<br>单<br>位</div>
<div class="t" style="left:982px;top:690px;font-size:28px;">•边界防护区</div>
<div class="t" style="left:1262px;top:500px;font-size:22px;">•互联网</div>
<div class="t" style="left:1262px;top:645px;font-size:22px;">•政务网</div>
<div class="t" style="left:1042px;top:1082px;font-size:24px;">电子政务安全产品</div>
</body></html>
